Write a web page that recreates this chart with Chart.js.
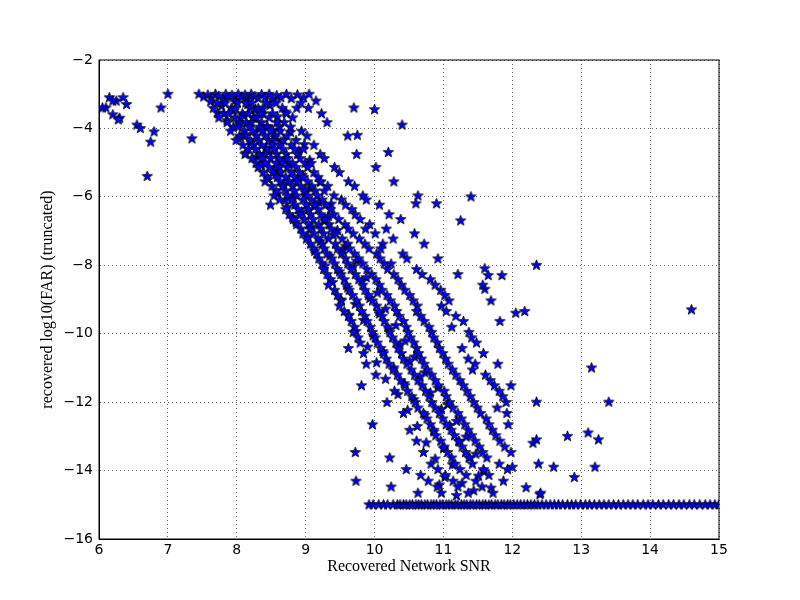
<!DOCTYPE html>
<html><head><meta charset="utf-8">
<script src="https://cdn.jsdelivr.net/npm/chart.js@4/dist/chart.umd.min.js"></script>
<style>html,body{margin:0;background:#fff}#c{display:block}</style>
</head><body>
<canvas id="c" width="800" height="600"></canvas>
<script>
// axis settings
const xTicks = [6, 7, 8, 9, 10, 11, 12, 13, 14, 15];
const yTicks = [-2, -4, -6, -8, -10, -12, -14, -16];

// outliers at left / far right
const sparsePoints = [
  [6.1,-3.4],[6.15,-3.1],[6.2,-3.6],[6.25,-3.2],[6.3,-3.7],[6.35,-3.1],[6.4,-3.3],[6.2,-3.2],[6.05,-3.4],
  [6.55,-3.9],[6.6,-4.0],[6.7,-5.4],[6.75,-4.4],[6.8,-4.1],[6.9,-3.4],[7.0,-3.0],[7.35,-4.3],[6.28,-3.75],
  [9.7,-3.4],[10.0,-3.45],[9.75,-4.2],[10.4,-3.9],[10.2,-4.7],[10.6,-6.2],[10.9,-6.2],[11.4,-6.0],[11.25,-6.7],
  [11.6,-8.1],[11.65,-8.3],[11.6,-8.7],[11.85,-8.3],[12.35,-8.0],[12.05,-9.4],[12.35,-12.0],[12.3,-13.2],
  [12.35,-13.1],[12.6,-13.9],[12.8,-13.0],[12.9,-14.2],[13.1,-12.9],[13.15,-11.0],[13.25,-13.1],[13.2,-13.9],
  [13.4,-12.0],[14.6,-9.3],[12.2,-14.5],[12.4,-14.7],[12.0,-13.9]
];

// truncation band at the top
const topBand = [
  [7.45,-3.0],[7.52,-3.08],[7.58,-3.02],[7.63,-3.12],[7.69,-3.0],[7.74,-3.06],[7.8,-3.15],[7.84,-3.0],
  [7.89,-3.1],[7.93,-3.03],[7.98,-3.18],[8.02,-3.0],[8.07,-3.09],[8.12,-3.02],[8.16,-3.14],[8.21,-3.0],
  [8.26,-3.07],[8.31,-3.12],[8.36,-3.01],[8.41,-3.1],[8.47,-3.0],[8.52,-3.16],[8.58,-3.04],[8.64,-3.1],
  [8.72,-3.0],[8.79,-3.13],[8.88,-3.02],[8.97,-3.1],[9.05,-3.0],[9.15,-3.2]
];

// extra scattered points through the cloud
const fillPoints = [
  [7.78,-3.35],[7.96,-3.48],[8.09,-3.62],[8.27,-3.44],[8.48,-3.33],[8.71,-3.52],[7.86,-3.77],[8.04,-3.89],
  [8.26,-3.71],[8.44,-3.94],[8.12,-4.18],[8.33,-4.02],[8.55,-4.27],[8.78,-4.11],[8.21,-4.41],[8.42,-4.58],
  [8.64,-4.39],[8.29,-4.83],[8.47,-4.69],[8.69,-4.94],[8.9,-4.66],[8.36,-5.08],[8.55,-5.22],[8.76,-5.04],
  [8.95,-5.37],[8.46,-5.49],[8.68,-5.63],[8.89,-5.47],[9.06,-5.74],[8.6,-5.91],[8.82,-6.03],[9.0,-5.88],
  [9.19,-6.16],[8.73,-6.31],[8.94,-6.44],[9.13,-6.28],[9.33,-6.57],[8.86,-6.74],[9.09,-6.88],[9.27,-6.71],
  [9.46,-6.98],[9.03,-7.16],[9.21,-7.31],[9.4,-7.12],[9.58,-7.44],[9.13,-7.59],[9.35,-7.73],[9.54,-7.57],
  [9.74,-7.88],[9.28,-8.02],[9.49,-8.19],[9.69,-8.04],[9.88,-8.36],[9.39,-8.5],[9.61,-8.66],[9.82,-8.47],
  [10.04,-8.81],[9.51,-9.01],[9.72,-9.14],[9.93,-8.97],[10.16,-9.28],[9.63,-9.46],[9.84,-9.61],[10.07,-9.42],
  [10.31,-9.76],[9.73,-9.93],[9.98,-10.06],[10.21,-9.88],[10.44,-10.21],[9.9,-10.39],[10.12,-10.52],
  [10.37,-10.34],[10.58,-10.68],[10.03,-10.85],[10.28,-11.0],[10.51,-10.81],[10.73,-11.14],[10.16,-11.33],
  [10.43,-11.46],[10.66,-11.27],[10.92,-11.59],[10.34,-11.78],[10.57,-11.93],[10.81,-11.73],[11.06,-12.07],
  [10.48,-12.24],[10.73,-12.38],[10.97,-12.21],[11.19,-12.56],[10.62,-12.71],[10.86,-12.87],[11.09,-12.68],
  [11.33,-13.02],[10.75,-13.19],[11.0,-13.36],[11.23,-13.16],[11.47,-13.52],[10.88,-13.66],[11.13,-13.83],
  [11.38,-13.63],[11.59,-14.02],[11.02,-14.2],[11.27,-14.37],[11.51,-14.16],[11.19,-14.73],[11.44,-14.59],
  [10.94,-14.42],[11.69,-14.51],
  [7.62,-3.22],[7.72,-3.55],[8.16,-3.3],[8.38,-3.58],[8.59,-3.66],[8.87,-3.41],[8.03,-4.31],[8.52,-4.05],
  [8.98,-4.47],[8.13,-4.72],[9.06,-4.93],[8.58,-5.36],[9.21,-5.57],[8.7,-6.12],[9.37,-6.21],[8.81,-6.6]
];

// main diagonal cloud: [far, snr, snr, ...]
const cloudRows = [
  [-3.26, 7.72,7.83,8.01,8.13,8.22,8.43,8.57,8.93],
  [-3.41, 7.66,7.92,7.98,8.19,8.31,8.38,8.66,9.04],
  [-3.57, 7.81,7.88,8.08,8.17,8.34,8.52,8.72,9.23],
  [-3.69, 7.74,7.97,8.06,8.24,8.29,8.47,8.81],
  [-3.83, 7.86,8.03,8.14,8.21,8.36,8.58,8.69,9.31],
  [-3.96, 7.95,8.02,8.18,8.33,8.44,8.62,8.78],
  [-4.08, 7.91,8.11,8.23,8.37,8.49,8.63,8.94],
  [-4.22, 8.04,8.13,8.28,8.41,8.56,8.73,9.02,9.61],
  [-4.35, 7.99,8.19,8.32,8.46,8.53,8.68,8.86],
  [-4.49, 8.09,8.24,8.36,8.51,8.62,8.79,9.12],
  [-4.61, 8.17,8.27,8.43,8.55,8.67,8.84,8.97],
  [-4.76, 8.12,8.33,8.41,8.58,8.72,8.88,9.21,9.74],
  [-4.88, 8.22,8.37,8.49,8.61,8.74,8.92,9.27],
  [-5.02, 8.28,8.42,8.57,8.66,8.81,8.99,9.08],
  [-5.14, 8.31,8.47,8.62,8.73,8.86,9.03,9.42,10.02],
  [-5.29, 8.38,8.52,8.64,8.79,8.91,9.12,9.49],
  [-5.43, 8.44,8.59,8.71,8.84,8.97,9.18],
  [-5.56, 8.41,8.63,8.76,8.87,9.03,9.22,9.62,10.28],
  [-5.69, 8.51,8.66,8.81,8.93,9.09,9.32,9.71],
  [-5.83, 8.57,8.71,8.83,8.98,9.14,9.27],
  [-5.97, 8.54,8.74,8.87,9.02,9.17,9.41,9.83,10.63],
  [-6.09, 8.62,8.79,8.96,9.08,9.24,9.52,9.88],
  [-6.24, 8.49,8.84,9.01,9.13,9.29,9.58,10.07],
  [-6.37, 8.71,8.89,9.04,9.18,9.36,9.67],
  [-6.52, 8.76,8.92,9.07,9.22,9.41,9.72,10.21],
  [-6.66, 8.82,8.98,9.11,9.28,9.48,9.79,10.38],
  [-6.81, 8.87,9.04,9.19,9.34,9.57,9.93],
  [-6.94, 8.93,9.06,9.22,9.37,9.62,9.87,10.17],
  [-7.08, 8.96,9.12,9.26,9.44,9.69,10.01,10.58],
  [-7.23, 9.01,9.18,9.33,9.53,9.78,10.27],
  [-7.38, 9.07,9.24,9.43,9.61,9.86,10.12,10.72],
  [-7.52, 9.12,9.27,9.46,9.64,9.92,10.09],
  [-7.67, 9.16,9.31,9.52,9.71,10.03,10.41],
  [-7.81, 9.19,9.38,9.58,9.77,10.08,10.47,10.92],
  [-7.96, 9.24,9.42,9.61,9.83,10.14,10.24],
  [-8.12, 9.26,9.46,9.66,9.89,10.19,10.61],
  [-8.27, 9.31,9.51,9.72,9.96,10.28,10.69,11.21],
  [-8.42, 9.36,9.56,9.77,10.02,10.34,10.81],
  [-8.58, 9.33,9.59,9.83,10.07,10.39,10.88,11.57],
  [-8.73, 9.42,9.63,9.86,10.11,10.44,10.96],
  [-8.88, 9.46,9.68,9.91,10.18,10.51,11.02],
  [-9.04, 9.52,9.74,9.97,10.23,10.56,11.08,11.69],
  [-9.19, 9.49,9.78,10.03,10.29,10.62,10.97],
  [-9.35, 9.56,9.81,10.06,10.32,10.61,11.04,12.18],
  [-9.49, 9.62,9.86,10.11,10.36,10.67,11.18],
  [-9.64, 9.66,9.89,10.14,10.42,10.72,11.29,11.82],
  [-9.81, 9.71,9.94,10.19,10.46,10.79,11.12],
  [-9.96, 9.69,9.97,10.22,10.49,10.83,11.37],
  [-10.12, 9.76,10.01,10.26,10.52,10.86,11.41],
  [-10.27, 9.79,10.04,10.31,10.57,10.91,11.48],
  [-10.43, 9.62,10.09,10.34,10.61,10.94,11.27],
  [-10.58, 9.84,10.13,10.39,10.64,10.99,11.58],
  [-10.74, 10.17,10.42,10.68,11.03,11.36],
  [-10.89, 9.88,10.21,10.47,10.72,11.07,11.46,11.79],
  [-11.06, 10.27,10.53,10.77,11.13,11.42],
  [-11.21, 10.02,10.33,10.58,10.83,11.18,11.61],
  [-11.37, 10.38,10.63,10.88,11.24,11.68],
  [-11.52, 9.81,10.44,10.69,10.93,11.29,11.74,11.98],
  [-11.68, 10.29,10.48,10.74,11.01,11.34,11.81],
  [-11.84, 10.54,10.79,11.04,11.39,11.86],
  [-12.01, 10.18,10.59,10.83,11.09,11.44,11.91],
  [-12.17, 10.63,10.88,11.14,11.49,11.78],
  [-12.33, 10.42,10.71,10.94,11.21,11.54,11.92],
  [-12.49, 10.76,10.99,11.26,11.62],
  [-12.66, 9.97,10.81,11.04,11.31,11.66,11.94],
  [-12.82, 10.51,10.86,11.11,11.36,11.71],
  [-12.98, 10.89,11.16,11.41,11.76],
  [-13.14, 10.61,10.96,11.22,11.46,11.82],
  [-13.31, 11.01,11.27,11.52,11.89],
  [-13.47, 9.72,10.71,11.06,11.32,11.57,11.98],
  [-13.63, 10.22,11.12,11.37,11.63],
  [-13.81, 10.82,11.17,11.42,11.81,12.38],
  [-13.97, 10.46,10.92,11.24,11.58,11.93],
  [-14.14, 10.67,11.03,11.33,11.66],
  [-14.31, 9.73,10.78,11.14,11.47,11.87],
  [-14.48, 10.24,10.91,11.21,11.56],
  [-14.66, 10.63,10.97,11.36,11.72,12.41]
];

// truncation floor at log10(FAR) = -15
const floorFar = -15;
const floorSnr = [
  9.92,9.98,10.06,10.13,10.19,10.27,10.33,10.37,10.42,10.46,10.51,10.55,10.6,10.64,10.68,10.73,10.77,
  10.82,10.86,10.9,10.95,10.99,11.04,11.08,11.12,11.17,11.21,11.26,11.3,11.34,11.39,11.43,11.48,11.52,
  11.57,11.61,11.66,11.7,11.75,11.79,11.84,11.88,11.93,11.97,12.02,12.07,12.12,12.17,12.22,12.27,12.32,
  12.37,12.43,12.49,12.55,12.61,12.67,12.73,12.8,12.86,12.92,12.99,13.06,13.12,13.19,13.26,13.33,13.4,
  13.47,13.54,13.61,13.68,13.75,13.82,13.9,13.97,14.04,14.12,14.19,14.27,14.34,14.42,14.49,14.57,14.64,
  14.72,14.8,14.87,14.94,15.0
];

const points = [];
sparsePoints.concat(topBand, fillPoints).forEach(([x, y]) => points.push({ x, y }));
cloudRows.forEach(([y, ...xs]) => xs.forEach(x => points.push({ x, y })));
floorSnr.forEach(x => points.push({ x, y: floorFar }));

// filled star marker, matplotlib style
function starMarker(r) {
  const s = Math.ceil(r * 2 + 2);
  const cv = document.createElement('canvas');
  cv.width = s; cv.height = s;
  const g = cv.getContext('2d');
  g.beginPath();
  for (let i = 0; i < 10; i++) {
    const rad = i % 2 ? r * 0.42 : r;
    const a = -Math.PI / 2 + i * Math.PI / 5;
    g.lineTo(s / 2 + rad * Math.cos(a), s / 2 + rad * Math.sin(a));
  }
  g.closePath();
  g.fillStyle = '#0000ff';
  g.fill();
  g.lineWidth = 0.8;
  g.strokeStyle = '#000';
  g.stroke();
  return cv;
}

const minus = v => String(v).replace('-', '\u2212');
const tickFont = { family: 'DejaVu Sans', size: 14 };
const titleFont = { family: 'Liberation Serif', size: 16 };

new Chart(document.getElementById('c'), {
  type: 'scatter',
  data: { datasets: [{ data: points, pointStyle: starMarker(5.5), pointRadius: 5 }] },
  options: {
    responsive: false,
    animation: false,
    layout: { padding: { left: 38, right: 81, top: 60, bottom: 24 } },
    plugins: { legend: { display: false }, tooltip: { enabled: false } },
    scales: {
      x: {
        min: 6, max: 15,
        afterBuildTicks: a => { a.ticks = xTicks.map(v => ({ value: v })); },
        afterFit: a => { a.height = 37; },
        ticks: { color: '#000', font: tickFont, callback: minus, maxRotation: 0 },
        grid: { color: '#000', lineWidth: 0.6, drawTicks: false },
        border: { color: '#000', width: 1, dash: [1, 3] },
        title: { display: true, text: 'Recovered Network SNR', color: '#000', font: titleFont, padding: 0 }
      },
      y: {
        min: -16, max: -2,
        afterBuildTicks: a => { a.ticks = yTicks.map(v => ({ value: v })); },
        afterFit: a => { a.width = 61; },
        ticks: { color: '#000', font: tickFont, callback: minus, padding: 6 },
        grid: { color: '#000', lineWidth: 0.6, drawTicks: false },
        border: { color: '#000', width: 1, dash: [1, 3] },
        title: { display: true, text: 'recovered log10(FAR) (truncated)', color: '#000', font: titleFont, padding: 0 }
      }
    }
  },
  plugins: [{
    id: 'box',
    afterDraw(c) {
      const { ctx, chartArea: a } = c;
      ctx.save();
      ctx.strokeStyle = '#000'; ctx.lineWidth = 1;
      ctx.strokeRect(a.left, a.top, a.right - a.left, a.bottom - a.top);
      ctx.restore();
    }
  }]
});
</script>
</body></html>
